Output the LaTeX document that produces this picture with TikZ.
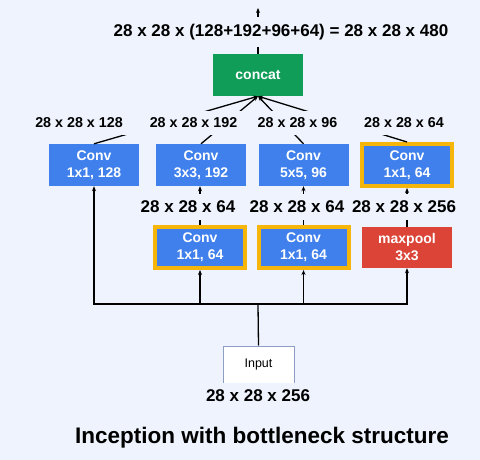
\documentclass[tikz,border=0pt]{standalone}
\usepackage{fontspec}
\setmainfont{Liberation Sans}
\usetikzlibrary{arrows.meta}
\definecolor{bg}{HTML}{EEF3FD}
\definecolor{gblue}{HTML}{3F80EC}
\definecolor{ggreen}{HTML}{0F9D58}
\definecolor{gred}{HTML}{DB4437}
\definecolor{gyellow}{HTML}{F6B50A}
\definecolor{inborder}{HTML}{8E9DC4}
\begin{document}
\begin{tikzpicture}[x=1pt,y=-1pt,
  box/.style={rectangle, minimum width=90pt, minimum height=42pt, inner sep=0pt,
    text=white, align=center, font=\fontsize{14}{17}\selectfont\bfseries},
  convbox/.style={box, fill=gblue},
  bneck/.style={box, fill=gblue, draw=gyellow, line width=4pt, minimum width=90pt, minimum height=41pt},
  dimlabel/.style={fill=bg, inner xsep=4pt, inner ysep=7pt, font=\fontsize{17}{20}\selectfont\bfseries},
  smalldim/.style={dimlabel, inner xsep=14pt, inner ysep=7pt, font=\fontsize{14.3}{17}\selectfont\bfseries},
  conn/.style={line width=1.3pt, black},
  arr/.style={conn, -{Stealth[length=5pt,width=4pt]}}
]
\fill[bg] (0,0) rectangle (480,460);
\useasboundingbox (0,0) rectangle (480,460);

% nodes
\node[box, fill=ggreen] (concat) at (258,75) {concat};
\node[convbox] (b1) at (94,165) {Conv\\1x1, 128};
\node[convbox] (b2) at (201,165) {Conv\\3x3, 192};
\node[convbox] (b3) at (303.5,165) {Conv\\5x5, 96};
\node[bneck, minimum height=42pt] (b4) at (407,165) {Conv\\1x1, 64};
\node[bneck] (b2a) at (200,247.5) {Conv\\1x1, 64};
\node[bneck] (b3a) at (303.5,247.5) {Conv\\1x1, 64};
\node[box, fill=gred, minimum height=41pt] (mp) at (407,247.5) {maxpool\\3x3};
\node[rectangle, draw=inborder, line width=1pt, fill=white, minimum width=71pt, minimum height=37pt,
  font=\fontsize{12.5}{15}\selectfont] (in) at (258.5,364.5) {Input};

\coordinate (out) at (258,8);
\coordinate (bus) at (258,304);

% connectors
\draw[arr] (concat.north) -- (out);
\draw[arr] (b1.north) -- (concat.south);
\draw[arr] (b2.north) -- (concat.south);
\draw[arr] (b3.north) -- (concat.south);
\draw[arr] (b4.north) -- (concat.south);
\draw[arr] (b2a.north) -- (b2a.north |- b2.south);
\draw[arr] (b3a.north) -- (b3a.north |- b3.south);
\draw[arr] (mp.north) -- (mp.north |- b4.south);
\draw[conn] (in.north) -- (bus);
\draw[arr] (bus) -| (b1.south);
\draw[arr] (bus) -| (b2a.south);
\draw[arr] (bus) -| (b3a.south);
\draw[arr] (bus) -| (mp.south);

% labels
\node[dimlabel] (ltop) at (281,32) {28 x 28 x (128+192+96+64) = 28 x 28 x 480};
\node[smalldim] (l1) at (79,123) {28 x 28 x 128};
\node[smalldim] (l2) at (193.5,123) {28 x 28 x 192};
\node[smalldim] (l3) at (297.5,123) {28 x 28 x 96};
\node[smalldim] (l4) at (404,123) {28 x 28 x 64};
\node[dimlabel] (l5) at (188,207) {28 x 28 x 64};
\node[dimlabel] (l6) at (297,207) {28 x 28 x 64};
\node[dimlabel] (l7) at (404,207) {28 x 28 x 256};
\node[dimlabel] (lin) at (258,396) {28 x 28 x 256};
\node[font=\fontsize{22.5}{26}\selectfont\bfseries] (title) at (262,438) {Inception with bottleneck structure};
\end{tikzpicture}
\end{document}
